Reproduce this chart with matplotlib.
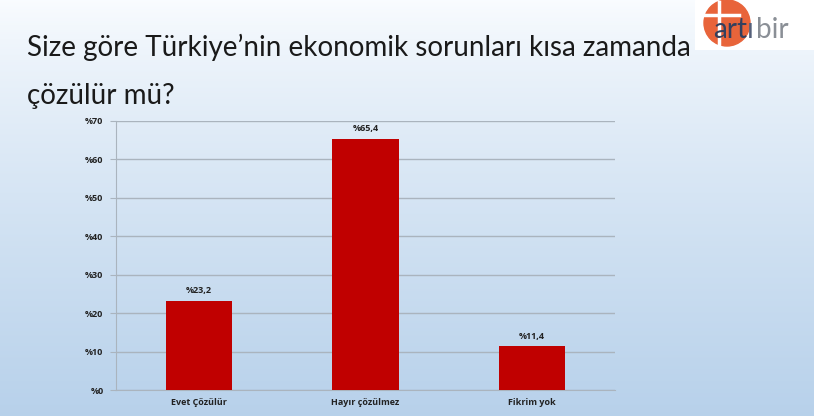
import numpy as np
import matplotlib
matplotlib.use('Agg')
import matplotlib.pyplot as plt
from matplotlib.patches import Circle, Rectangle

categories = ['Evet Çözülür', 'Hayır çözülmez', 'Fikrim yok']
values = [23.2, 65.4, 11.4]
value_labels = ['%23,2', '%65,4', '%11,4']
yticks = [0, 10, 20, 30, 40, 50, 60, 70]
ytick_labels = ['%' + str(v) for v in yticks]

plt.rcParams['font.family'] = ['Lato', 'DejaVu Sans']
small = ['Open Sans', 'DejaVu Sans']

fig = plt.figure(figsize=(8.14, 4.16), dpi=100)

# background gradient
bg = fig.add_axes([0, 0, 1, 1], zorder=0)
grad = np.linspace(0, 1, 256).reshape(-1, 1)
top = np.array([0.98, 0.99, 1.0])
bottom = np.array([0.72, 0.82, 0.92])
img = top + (bottom - top) * grad[:, :, None] ** 0.8
bg.imshow(img, aspect='auto', extent=[0, 1, 0, 1], origin='upper')
bg.set_axis_off()

# title
fig.text(27 / 814, 1 - 47 / 416, 'Size göre Türkiye’nin ekonomik sorunları kısa zamanda',
         fontsize=20, va='center', ha='left', color='#1a1a1a')
fig.text(27 / 814, 1 - 96 / 416, 'çözülür mü?',
         fontsize=20, va='center', ha='left', color='#1a1a1a')

# logo
lg = fig.add_axes([695 / 814, 1 - 50 / 416, 119 / 814, 50 / 416], zorder=2)
lg.set_xlim(0, 119)
lg.set_ylim(50, 0)
lg.set_axis_off()
lg.add_patch(Rectangle((0, 0), 119, 50, color='white', zorder=0))
lg.add_patch(Circle((32, 23), 23, color='#e8643a', zorder=1))
lg.plot([24, 24], [2, 46], color='white', lw=2.5, zorder=2)
lg.plot([10, 44], [15, 15], color='white', lw=2.5, zorder=2)
lg.text(18, 30, 'art', fontsize=20, color='#33405e', va='center', ha='left', zorder=3)
lg.text(52, 30, 'ı', fontsize=20, color='#55607a', va='center', ha='left', zorder=3)
lg.text(61, 30, 'bir', fontsize=20, color='#8a8f96', va='center', ha='left', zorder=3)

# chart
ax = fig.add_axes([116 / 814, 1 - 390 / 416, 499 / 814, 269 / 416], zorder=1)
ax.patch.set_alpha(0)
x = np.arange(len(categories))
ax.bar(x, values, width=0.4, color='#c00000', zorder=3)
for xi, v, lab in zip(x, values, value_labels):
    ax.text(xi, v + 1.4, lab, ha='center', va='bottom', fontsize=6.5,
            fontweight='bold', color='#222222', family=small)
ax.set_xlim(-0.5, 2.5)
ax.set_ylim(0, 70)
ax.set_yticks(yticks)
ax.set_yticklabels(ytick_labels, fontsize=6.5, fontweight='bold', color='#222222', family=small)
ax.set_xticks(x)
ax.set_xticklabels(categories, fontsize=6.5, fontweight='bold', color='#222222', family=small)
ax.yaxis.grid(True, color='#aab4be', lw=1, zorder=0)
for s in ['top', 'right']:
    ax.spines[s].set_visible(False)
ax.spines['left'].set_color('#aab4be')
ax.spines['bottom'].set_color('#aab4be')
ax.tick_params(axis='y', length=4, color='#aab4be', pad=5)
ax.tick_params(axis='x', length=0, pad=6)

fig.savefig('out.png', dpi=100)
